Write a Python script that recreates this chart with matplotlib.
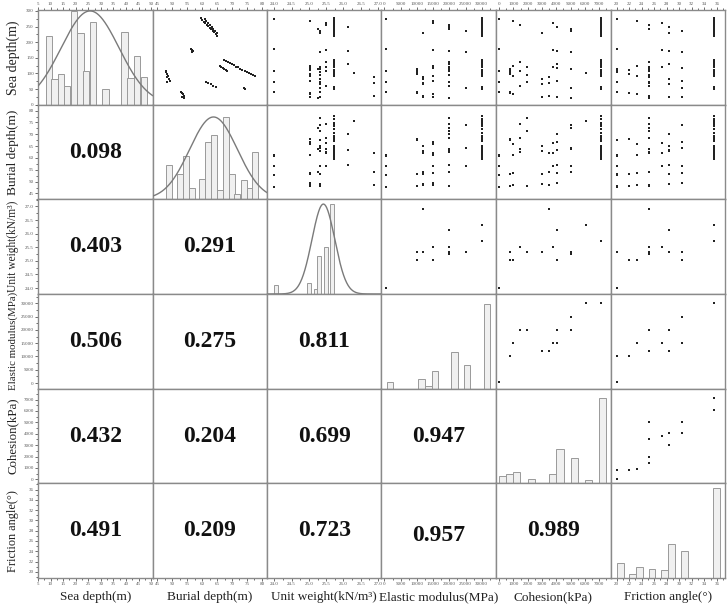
import numpy as np
import matplotlib
matplotlib.use("Agg")
import matplotlib.pyplot as plt
from matplotlib.ticker import AutoMinorLocator

plt.rcParams['font.family'] = ['Liberation Serif', 'DejaVu Serif']

# ---------------- data ----------------
var_names = ["Sea depth(m)", "Burial depth(m)", "Unit weight(kN/m³)",
             "Elastic modulus(MPa)", "Cohesion(kPa)", "Friction angle(°)"]

# soil-type property table
type_uw = [24.00, 25.32, 25.02, 25.02, 25.50, 25.32, 26.89, 25.32, 25.50, 26.12, 25.02, 25.25, 25.32, 26.30, 25.72]
type_E = [500, 10000, 10000, 15000, 20000, 20000, 12000, 12000, 15000, 20000, 15000, 20000, 25000, 30000, 30000]
type_c = [0, 800, 800, 950, 1450, 1950, 3500, 3000, 3800, 4050, 4050, 5050, 5050, 6050, 7100]
type_phi = [20.0, 20.0, 22.0, 23.2, 25.2, 25.2, 25.2, 28.3, 27.3, 28.3, 30.4, 25.2, 30.4, 35.5, 35.5]

# samples
sample_sea = [276, 271, 266, 261, 256, 251, 246, 241, 236, 231, 226, 221,
              274, 268, 262, 256, 250, 243, 236, 228,
              178, 174, 171, 168,
              143, 140, 136, 133, 129, 126, 122, 119, 115, 112, 108, 105, 101, 98, 94, 91,
              124, 121, 117, 114, 110, 107,
              74, 70, 66, 61, 57,
              53, 50,
              108, 103, 98, 93, 88, 83, 77, 74,
              42, 39, 36, 33, 29, 26, 23, 21]
sample_burial = [59.5, 60.0, 60.5, 61.0, 61.5, 62.0, 62.5, 63.0, 63.5, 64.0, 64.5, 65.0,
                 60.8, 61.4, 62.0, 62.6, 63.2, 63.8, 64.4, 65.0,
                 56.4, 56.7, 57.0, 56.6,
                 67.2, 67.9, 68.6, 69.3, 70.0, 70.7, 71.4, 72.1, 72.8, 73.5, 74.2, 74.9, 75.6, 76.3, 77.0, 77.7,
                 65.9, 66.4, 66.9, 67.4, 67.9, 68.4,
                 61.3, 62.1, 62.9, 63.7, 64.5,
                 73.9, 74.2,
                 47.8, 48.0, 48.3, 48.6, 48.4, 48.9, 49.2, 48.1,
                 52.8, 53.1, 53.4, 53.7, 54.0, 53.2, 53.6, 53.9]
sample_type = [14, 14, 14, 14, 14, 14, 14, 14, 14, 14, 14, 14,
               0, 3, 8, 4, 9, 11, 12, 7,
               0, 8, 9, 12,
               14, 14, 4, 14, 9, 14, 5, 14, 11, 14, 4, 14, 13, 14, 5, 14,
               3, 8, 10, 1, 2, 14,
               0, 6, 7, 4, 14,
               12, 14,
               0, 1, 2, 3, 6, 7, 10, 5,
               0, 1, 2, 3, 6, 7, 10, 11]

# diagonal histograms (bin centres, heights)
sea_bins = [9.35, 11.65, 14.15, 16.57, 19.23, 21.94, 24.15, 26.85, 31.73, 39.4, 41.81, 44.43, 47.2]
sea_counts = [220, 82, 99, 61, 300, 229, 108, 266, 50, 233, 85, 157, 88]
burial_bins = [49.0, 52.6, 54.6, 56.5, 60.1, 62.0, 64.1, 66.1, 68.0, 70.0, 71.8, 74.0, 75.9, 77.8]
burial_counts = [0.36, 0.27, 0.46, 0.12, 0.22, 0.61, 0.68, 0.10, 0.87, 0.27, 0.06, 0.20, 0.12, 0.50]
uw_bins = [24.05, 25.0, 25.2, 25.3, 25.5, 25.67]
uw_counts = [0.09, 0.12, 0.05, 0.40, 0.50, 0.95]
E_bins = [1780, 11470, 13530, 15620, 21560, 25530, 31560]
E_counts = [0.07, 0.10, 0.03, 0.19, 0.39, 0.25, 0.89]
c_bins = [280, 740, 1230, 2270, 3720, 4260, 5240, 6230, 7220]
c_counts = [0.08, 0.10, 0.12, 0.05, 0.10, 0.36, 0.27, 0.03, 0.90]
phi_bins = [20.67, 22.6, 23.7, 25.65, 27.7, 28.8, 30.8, 35.9]
phi_counts = [0.16, 0.04, 0.12, 0.10, 0.08, 0.36, 0.29, 0.95]

# normal fit curves (mean, std, peak)
fit_params = {0: (25.7, 11.5, 300), 1: (63.8, 8.0, 0.87), 2: (25.42, 0.33, 0.95)}

# correlation coefficients (lower triangle)
corr = {(1, 0): 0.098,
        (2, 0): 0.403, (2, 1): 0.291,
        (3, 0): 0.506, (3, 1): 0.275, (3, 2): 0.811,
        (4, 0): 0.432, (4, 1): 0.204, (4, 2): 0.699, (4, 3): 0.947,
        (5, 0): 0.491, (5, 1): 0.209, (5, 2): 0.723, (5, 3): 0.957, (5, 4): 0.989}

# ---------------- layout ----------------
xlims = [(5, 50.5), (43.4, 81.7), (23.79, 27.1), (-900, 34400), (-210, 7780), (19.04, 37.3)]
ylims = [(0, 303), (42.5, 82.5), (23.78, 27.26), (-2100, 33500), (-350, 7960), (18.8, 37.2)]
ticks = [np.arange(5, 51, 5), np.arange(45, 81, 5), np.arange(24.0, 27.01, 0.5),
         np.arange(0, 30001, 5000), np.arange(0, 7001, 1000), np.arange(20, 37, 2)]
row_ticks = [np.arange(0, 301, 50)] + ticks[1:]
fmt = [lambda v: f"{v:g}", lambda v: f"{v:g}", lambda v: f"{v:.1f}",
       lambda v: f"{v:g}", lambda v: f"{v:g}", lambda v: f"{v:g}"]

hists = [(sea_bins, sea_counts, 2.6), (burial_bins, burial_counts, 2.0), (uw_bins, uw_counts, 0.12),
         (E_bins, E_counts, 2000), (c_bins, c_counts, 500), (phi_bins, phi_counts, 1.07)]

t = np.array(sample_type)
values = [np.array(sample_sea, float), np.array(sample_burial, float),
          np.array(type_uw)[t], np.array(type_E)[t], np.array(type_c)[t], np.array(type_phi)[t]]

W, H = 727, 608
L, R, T, B = 38, 725, 10, 578
fig = plt.figure(figsize=(W / 100, H / 100), dpi=100)
gs = fig.add_gridspec(6, 6, left=L / W, right=R / W, top=1 - T / H, bottom=1 - B / H, wspace=0, hspace=0)

spine_col = '#8a8a8a'
tick_kw = dict(direction='out', labelsize=3.6, length=2, width=0.6, colors='#555555', pad=1)
for r in range(6):
    for c in range(6):
        ax = fig.add_subplot(gs[r, c])
        ax.set_xlim(*xlims[c])
        if r == c and r > 0:
            ax.set_ylim(0, 1.0)
        else:
            ax.set_ylim(*ylims[r])
        for s in ax.spines.values():
            s.set_color(spine_col)
            s.set_linewidth(1.0)
        ax.tick_params(which='both', left=False, right=False, top=False, bottom=False,
                       labelleft=False, labelbottom=False, labeltop=False)
        if r == c:
            b, h, w = hists[c]
            ax.bar(b, h, width=w, color='#f0f0f0', edgecolor='#9a9a9a', linewidth=0.7, zorder=2)
            if c in fit_params:
                mu, sd, pk = fit_params[c]
                xs = np.linspace(*xlims[c], 300)
                ax.plot(xs, pk * np.exp(-0.5 * ((xs - mu) / sd) ** 2), color='#7a7a7a', lw=1.0, zorder=3)
        elif c > r:
            ax.plot(values[c], values[r], 's', color='#222222', ms=1.7, mew=0, zorder=3)
        else:
            txt = f"{corr[(r, c)]:.3f}"
            dy = -0.05 if (r, c) == (5, 3) else 0.0
            ax.text(0.5, 0.5 + dy, txt, transform=ax.transAxes, ha='center', va='center',
                    fontsize=17, fontweight='bold', color='#111111')
        # outer ticks
        if r == 0:
            ax.xaxis.set_ticks_position('top')
            ax.set_xticks(ticks[c])
            ax.set_xticklabels([fmt[c](v) for v in ticks[c]])
            ax.xaxis.set_minor_locator(AutoMinorLocator(2))
            ax.tick_params(axis='x', which='both', top=True, labeltop=True, **tick_kw)
            ax.tick_params(axis='x', which='minor', length=1.2)
        if r == 5:
            ax.set_xticks(ticks[c])
            ax.set_xticklabels([fmt[c](v) for v in ticks[c]])
            ax.xaxis.set_minor_locator(AutoMinorLocator(2))
            ax.tick_params(axis='x', which='both', bottom=True, labelbottom=True, **tick_kw)
            ax.tick_params(axis='x', which='minor', length=1.2)
        if c == 0:
            ax.set_yticks(row_ticks[r])
            ax.set_yticklabels([fmt[r](v) for v in row_ticks[r]])
            ax.yaxis.set_minor_locator(AutoMinorLocator(2))
            ax.tick_params(axis='y', which='both', left=True, labelleft=True, **tick_kw)
            ax.tick_params(axis='y', which='minor', length=1.2)

# axis titles
ylabel_sizes = [10, 9.5, 8.3, 7.8, 9.3, 8.8]
row_h = (B - T) / 6
col_w = (R - L) / 6
for i, name in enumerate(var_names):
    yc = T + row_h * (i + 0.5)
    fig.text(13 / W, 1 - yc / H, name, rotation=90, ha='center', va='center',
             fontsize=ylabel_sizes[i], color='#222222')
    xc = L + col_w * (i + 0.5)
    fig.text(xc / W, 1 - 597 / H, name, ha='center', va='center', fontsize=9.5, color='#222222')

fig.savefig("out.png", dpi=100)
